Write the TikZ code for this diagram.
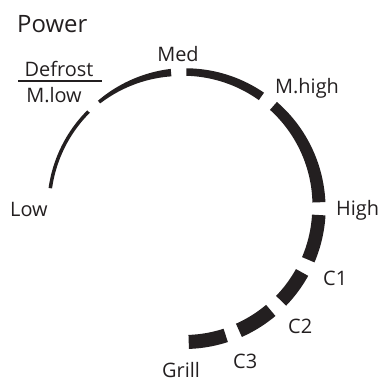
\documentclass[tikz,border=0pt]{standalone}
\usepackage{fontspec}
\setmainfont{Open Sans}
\definecolor{dialink}{RGB}{35,31,32}
\newcommand{\dialrad}{135}
% #1 start angle, #2 end angle, #3 start width, #4 end width
\newcommand{\dialseg}[4]{%
  \fill[seg] plot[domain=#1:#2,samples=40]
      ({(\dialrad+((#3)+((#4)-(#3))*(\x-(#1))/((#2)-(#1)))/2)*cos(\x)},
       {(\dialrad+((#3)+((#4)-(#3))*(\x-(#1))/((#2)-(#1)))/2)*sin(\x)})
    -- plot[domain=#2:#1,samples=40]
      ({(\dialrad-((#3)+((#4)-(#3))*(\x-(#1))/((#2)-(#1)))/2)*cos(\x)},
       {(\dialrad-((#3)+((#4)-(#3))*(\x-(#1))/((#2)-(#1)))/2)*sin(\x)})
    -- cycle;}
\begin{document}
\begin{tikzpicture}[x=1bp,y=1bp,
  seg/.style={fill=dialink},
  lbl/.style={font=\fontsize{20}{24}\selectfont,text=dialink,inner sep=0pt,anchor=base west}]
 \useasboundingbox (0,0) rectangle (380,383);

 \node[lbl,font=\fontsize{24}{28}\selectfont] (power) at (17,351) {Power};

 % dial segments
 \begin{scope}[shift={(184,176)}]
  \dialseg{172}{135}{3.5}{3.5}
  \dialseg{129}{95.5}{3.5}{7.5}
  \dialseg{89}{55}{7.5}{9}
  \dialseg{48.5}{2}{10.5}{13}
  \dialseg{-3.4}{-23}{13.5}{13.5}
  \dialseg{-29}{-44}{14}{14}
  \dialseg{-50}{-66}{14.5}{14.5}
  \dialseg{-72}{-88}{14}{14}
 \end{scope}

 \node[lbl,anchor=base] (med) at (178,322) {Med};
 \node[lbl,anchor=base] (defrost) at (59,307) {Defrost};
 \node[lbl,anchor=base] (mlow) at (54,281) {M.low};
 \draw[dialink,line width=1.1bp] (18,302) -- (102,302);
 \node[lbl] (mhigh) at (275,290) {M.high};
 \node[lbl] (high) at (336,168) {High};
 \node[lbl] (low) at (10,166.5) {Low};
 \node[lbl] (c1) at (323,98) {C1};
 \node[lbl] (c2) at (288,50) {C2};
 \node[lbl] (c3) at (233,15) {C3};
 \node[lbl] (grill) at (162,5.5) {Grill};
\end{tikzpicture}
\end{document}
